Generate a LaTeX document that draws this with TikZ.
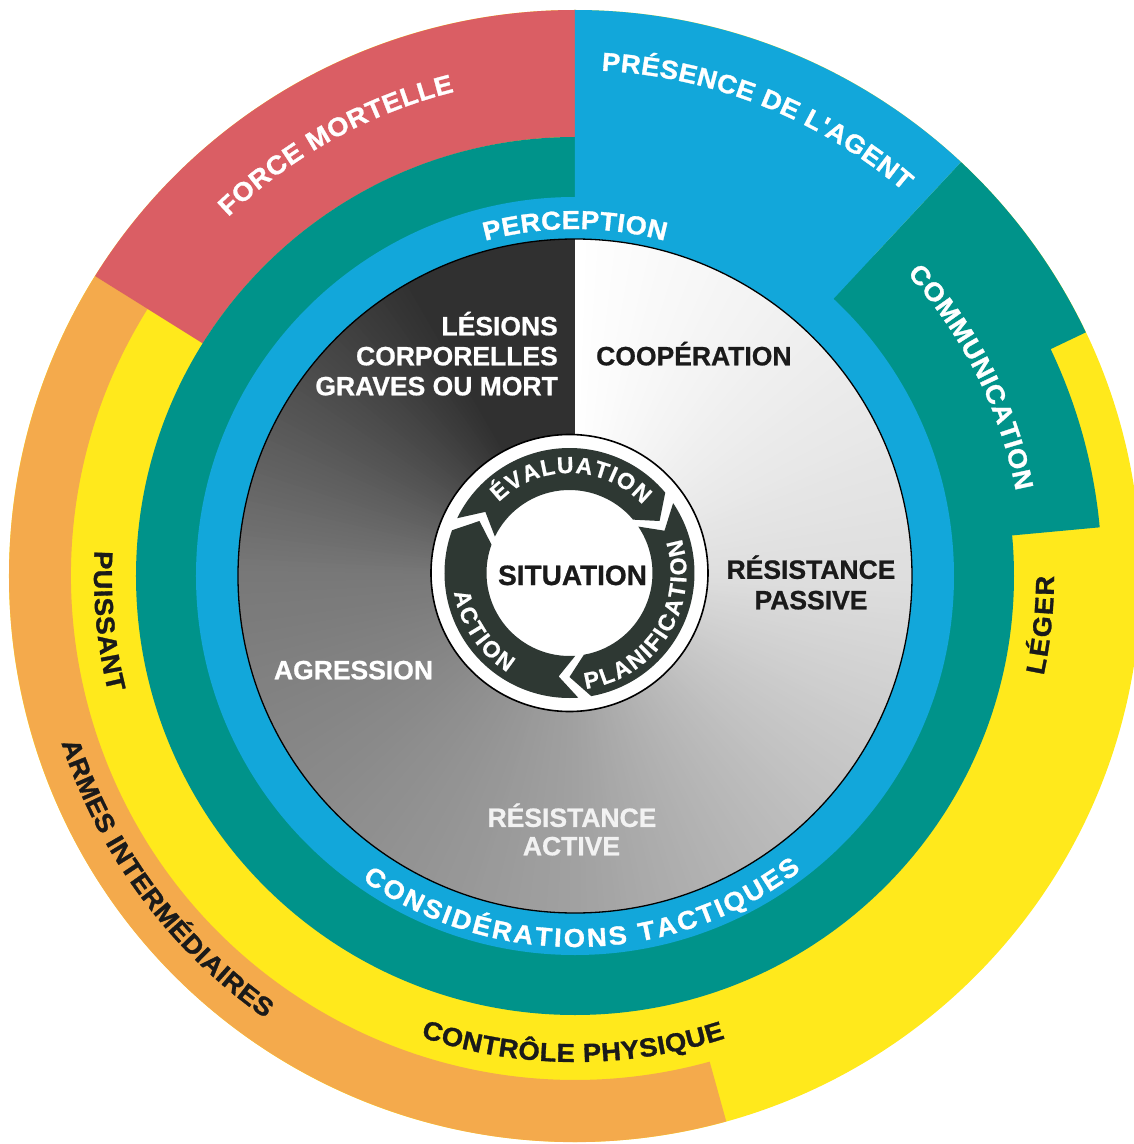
\documentclass[tikz,border=0pt]{standalone}
\usepackage{fontspec}
\setmainfont{Liberation Sans}
\newfontface\ringface{Liberation Sans Bold}[FakeBold=1.2, FakeStretch=1.05]
\newfontface\labface{Liberation Sans Bold}[FakeBold=0.8]
\usetikzlibrary{decorations.text}
\definecolor{cRed}{HTML}{DA5E64}
\definecolor{cOra}{HTML}{F4AA4C}
\definecolor{cYel}{HTML}{FFE91C}
\definecolor{cTeal}{HTML}{00938A}
\definecolor{cBlue}{HTML}{12A7DA}
\definecolor{cWheel}{HTML}{2E3833}
\definecolor{cInk}{HTML}{1A1A1A}
\definecolor{cLight}{HTML}{F2F2F2}
\newcommand\rfont{\fontsize{26}{26}\ringface}
\newcommand\wfont{\fontsize{23}{23}\labface}
\newcommand\annsec[5]{\fill[#1] (#2:#4pt) arc[start angle=#2, end angle=#3, radius=#4pt] -- (#3:#5pt) arc[start angle=#3, end angle=#2, radius=#5pt] -- cycle;}
\newcommand\arctext[6]{\path[decorate, decoration={text along path, text align=fit to path, text={|\color{#1}#2|#6}}] (#3:#5pt) arc[start angle=#3, end angle=#4, radius=#5pt];}
\newcommand\wheelarrow[2]{%
  \pgfmathsetmacro\ao{#1+5-3}%
  \pgfmathsetmacro\am{#1-5-3}%
  \pgfmathsetmacro\bo{#2+5+3}%
  \pgfmathsetmacro\bm{#2-5+3}%
  \fill[cWheel] (\ao:125pt) arc[start angle=\ao, end angle=\bo, radius=125pt] -- (\bm:104pt) -- (\bo:83pt) arc[start angle=\bo, end angle=\ao, radius=83pt] -- (\am:104pt) -- cycle;}
\tikzset{
  lab/.style={font=\fontsize{26.5}{30}\labface, inner sep=0pt},
  sitlab/.style={font=\fontsize{28}{30}\labface, inner sep=0pt, text=cInk}
}
\begin{document}
\begin{tikzpicture}[x=1pt,y=1pt]
\useasboundingbox (-575pt,-568pt) rectangle (559pt,576pt);
\clip (-575pt,-568pt) rectangle (559pt,576pt);
\fill[white] (-575pt,-568pt) rectangle (559pt,576pt);
% outer rings
\fill[cYel] (0,0) circle[radius=566pt];
\annsec{cOra}{148}{285.5}{504}{566}
\annsec{cRed}{90}{148}{439}{566}
\fill[cTeal] (0,0) circle[radius=439pt];
\fill[cTeal] (47:566pt) arc[start angle=47, end angle=25.5, radius=566pt] -- (25.5:527pt) arc[start angle=25.5, end angle=5.3, radius=527pt] -- (5.3:430pt) arc[start angle=5.3, end angle=47, radius=430pt] -- cycle;
\annsec{cBlue}{47}{90}{370}{566}
\fill[cBlue] (0,0) circle[radius=379pt];
% inner disc, conic shading
\foreach \a in {0,...,359}{
  \pgfmathsetmacro\g{\a<90 ? 1-0.13*\a/90 : (\a<180 ? 0.87-0.24*(\a-90)/90 : (\a<270 ? 0.63-0.16*(\a-180)/90 : (\a<330 ? 0.47-0.28*(\a-270)/60 : 0.19)))}
  \pgfmathsetmacro\s{90-\a}
  \pgfmathsetmacro\e{max(90-\a-1.6,-270)}
  \definecolor{cc}{gray}{\g}
  \fill[cc] (0,0) -- (\s:337pt) arc[start angle=\s, end angle=\e, radius=337pt] -- cycle;
}
\draw[black, line width=1.3pt] (0,0) circle[radius=337pt];
% ring texts
\arctext{white}{\rfont}{134}{104}{499}{FORCE MORTELLE}
\arctext{white}{\rfont}{87}{49.5}{506}{PRÉSENCE DE L'AGENT}
\arctext{white}{\rfont}{105}{75}{347}{PERCEPTION}
\arctext{white}{\rfont}{42.3}{10.9}{449}{COMMUNICATION}
\arctext{cInk}{\rfont}{-12}{0}{479}{LÉGER}
\arctext{cInk}{\rfont}{177}{194}{481}{PUISSANT}
\arctext{cInk}{\rfont}{198}{235}{540}{ARMES INTERMÉDIAIRES}
\arctext{cInk}{\rfont}{251.5}{288}{486}{CONTRÔLE PHYSIQUE}
\arctext{white}{\rfont}{235}{307.5}{371}{CONSIDÉRATIONS TACTIQUES}
% inner labels
\node[lab, text=white, anchor=base east] (les1) at (-17pt,240.7pt) {LÉSIONS};
\node[lab, text=white, anchor=base east] (les2) at (-17pt,210.7pt) {CORPORELLES};
\node[lab, text=white, anchor=base east] (les3) at (-17pt,180.7pt) {GRAVES OU MORT};
\node[lab, text=cInk, anchor=base west] (coop) at (21pt,210.7pt) {COOPÉRATION};
\node[lab, text=cInk, anchor=base] (rp1) at (236pt,-2.8pt) {RÉSISTANCE};
\node[lab, text=cInk, anchor=base] (rp2) at (236pt,-33.3pt) {PASSIVE};
\node[lab, text=white, anchor=base] (agr) at (-221.5pt,-103.3pt) {AGRESSION};
\node[lab, text=cLight, anchor=base] (ra1) at (-3pt,-250.9pt) {RÉSISTANCE};
\node[lab, text=cLight, anchor=base] (ra2) at (-3.5pt,-279.3pt) {ACTIVE};
% wheel
\begin{scope}[shift={(-5.5pt,3pt)}]
\fill[white, draw=black, line width=1.6pt] (0,0) circle[radius=138.5pt];
\wheelarrow{152}{32}
\wheelarrow{32}{-88}
\wheelarrow{-88}{-208}
\arctext{white}{\wfont}{135}{43}{100}{ÉVALUATION}
\arctext{white}{\wfont}{-82}{17}{117}{PLANIFICATION}
\arctext{white}{\wfont}{189.5}{238}{117}{ACTION}
\node[sitlab, anchor=base] (sit) at (3pt,-12pt) {SITUATION};
\end{scope}
\end{tikzpicture}
\end{document}
